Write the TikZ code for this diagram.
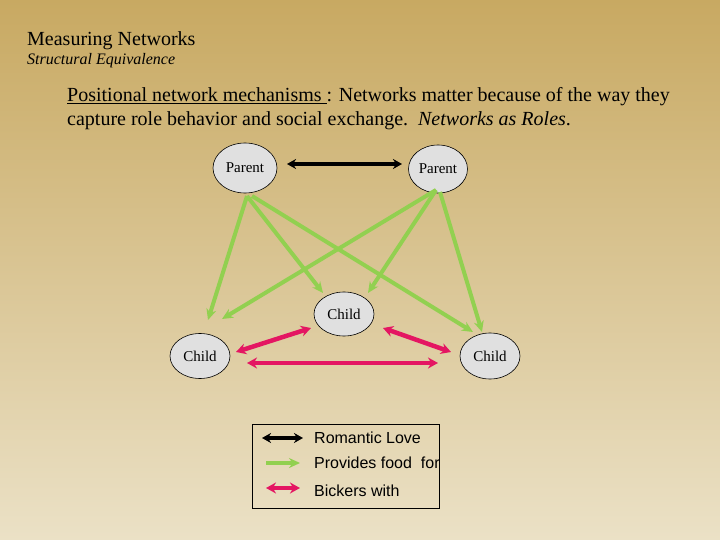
\documentclass[tikz,border=0pt]{standalone}
\usepackage{fontspec}
\setmainfont{Liberation Serif}
\setsansfont{Liberation Sans}
\usetikzlibrary{shapes.geometric,arrows.meta}
\definecolor{bgtop}{RGB}{200,169,98}
\definecolor{bgbot}{RGB}{235,225,198}
\definecolor{nodefill}{RGB}{224,224,224}
\definecolor{feedgreen}{RGB}{146,208,80}
\definecolor{bickpink}{RGB}{228,22,98}
\begin{document}
\begin{tikzpicture}[x=1pt,y=-1pt,
 person/.style={ellipse,draw=black,line width=0.6pt,fill=nodefill,inner sep=0pt,font=\fontsize{15}{17}\selectfont},
 love/.style={line width=3.6pt,black,{Stealth[length=9pt,width=10pt]}-{Stealth[length=9pt,width=10pt]}},
 feed/.style={line width=4pt,feedgreen,-{Stealth[length=11pt,width=10pt]}},
 bicker/.style={line width=4.5pt,bickpink,{Stealth[length=10pt,width=11pt]}-{Stealth[length=10pt,width=11pt]}},
 plain/.style={anchor=base west,inner sep=0pt},
 legtext/.style={anchor=west,inner sep=0pt,font=\sffamily\fontsize{16}{18}\selectfont},
]
\shade[top color=bgtop,bottom color=bgbot] (0,0) rectangle (720,540);
\useasboundingbox (0,0) rectangle (720,540);

\node[plain,font=\fontsize{20}{22}\selectfont] (title) at (27,46) {Measuring Networks};
\node[plain,font=\fontsize{16}{18}\selectfont\itshape] (sub) at (27,65) {Structural Equivalence};
\node[plain,font=\fontsize{20}{22}\selectfont] (l1) at (67,102) {\underline{Positional network mechanisms\ }: Networks matter because of the way they};
\node[plain,font=\fontsize{20}{22}\selectfont] (l2) at (67,126) {capture role behavior and social exchange.\ \ \textit{Networks as Roles}.};

\node[person,minimum width=64pt,minimum height=50pt] (pl) at (245,168) {Parent};
\node[person,minimum width=59pt,minimum height=48pt] (pr) at (438,169) {Parent};
\node[person,minimum width=60pt,minimum height=44pt] (cm) at (344,314) {Child};
\node[person,minimum width=60pt,minimum height=45pt] (cl) at (200,356) {Child};
\node[person,minimum width=60pt,minimum height=46pt] (cr) at (490,356) {Child};

\draw[love] ([shift={(42,-4)}]pl.center) -- ([shift={(-36,-5)}]pr.center);

\draw[feed] ([shift={(2,28)}]pl.center) -- ([shift={(8,-36)}]cl.center);
\draw[feed] ([shift={(2,28)}]pl.center) -- ([shift={(-21,-21)}]cm.center);
\draw[feed] ([shift={(7,28)}]pl.center) -- ([shift={(-17,-24)}]cr.center);
\draw[feed] ([shift={(-2,21)}]pr.center) -- ([shift={(22,-37)}]cl.center);
\draw[feed] ([shift={(-2,21)}]pr.center) -- ([shift={(24,-21)}]cm.center);
\draw[feed] ([shift={(2,23)}]pr.center) -- ([shift={(-8,-24)}]cr.center);

\draw[bicker] ([shift={(36,-4)}]cl.center) -- ([shift={(-33,14)}]cm.center);
\draw[bicker] ([shift={(39,14)}]cm.center) -- ([shift={(-39,-4)}]cr.center);
\draw[bicker] ([shift={(47,7)}]cl.center) -- ([shift={(-52,7)}]cr.center);

\node[draw,line width=0.8pt,minimum width=187pt,minimum height=84pt,anchor=north west,inner sep=0pt] (legend) at (252,424) {};
\coordinate (k1a) at (262,438); \coordinate (k1b) at (303,438);
\coordinate (k2a) at (266,463); \coordinate (k2b) at (300,463);
\coordinate (k3a) at (266,488); \coordinate (k3b) at (300,488);
\draw[love] (k1a) -- (k1b);
\draw[feed] (k2a) -- (k2b);
\draw[bicker] (k3a) -- (k3b);
\begin{scope}
\clip (252,424) rectangle (438.5,508);
\node[legtext] (t1) at (314,438) {Romantic Love};
\node[legtext] (t2) at (314,463) {Provides food\ \ for};
\node[legtext] (t3) at (314,491) {Bickers with};
\end{scope}
\end{tikzpicture}
\end{document}
